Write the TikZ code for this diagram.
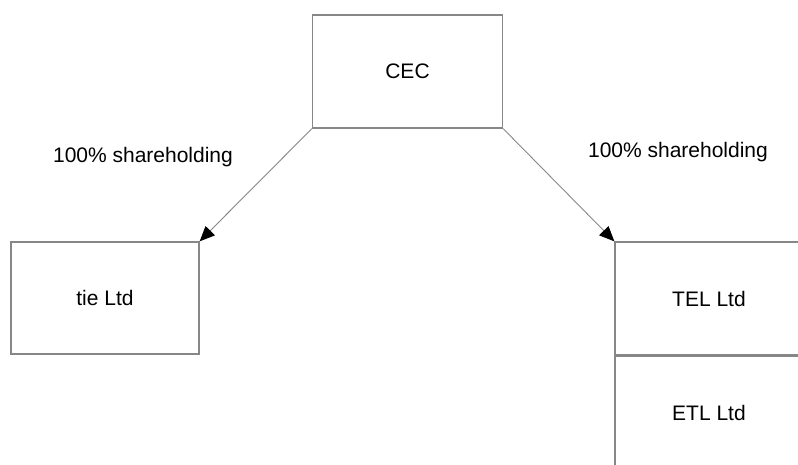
\documentclass[tikz,border=0pt]{standalone}
\usepackage{fontspec}
\setmainfont{Liberation Sans}
\usetikzlibrary{positioning,arrows.meta}
\definecolor{boxgray}{RGB}{135,135,135}
\tikzset{
    firm/.style={draw=boxgray, line width=1.3pt, minimum width=188pt, minimum height=112pt, inner sep=0pt, font=\fontsize{21}{25}\selectfont},
    share/.style={font=\fontsize{21}{25}\selectfont, inner sep=0pt},
    holding/.style={draw=boxgray, line width=0.9pt, -{Triangle[length=15pt,width=13pt,color=black]}}
}

\begin{document}
\begin{tikzpicture}[x=1pt, y=-1pt]
        \useasboundingbox (0,0) rectangle (798,465);
        \clip (0,0) rectangle (798,465);

        % parent
        \node [firm, minimum width=190pt, minimum height=113pt] (cec) at (407.5, 71.5) {CEC};

        % subsidiaries
        \node [firm] (tie) at (105, 298) {tie Ltd};
        \node [firm, minimum height=113pt] (tel) at (709, 298.5) {TEL Ltd};
        \node [firm, minimum height=113pt, below=0pt of tel] (etl) {ETL Ltd};

        % shareholding links
        \draw [holding] (cec.south west) -- (tie.north east);
        \draw [holding] (cec.south east) -- (tel.north west);
        \node [share] (lblA) at (143, 157) {100\% shareholding};
        \node [share] (lblB) at (678, 152) {100\% shareholding};
    \end{tikzpicture}
\end{document}
